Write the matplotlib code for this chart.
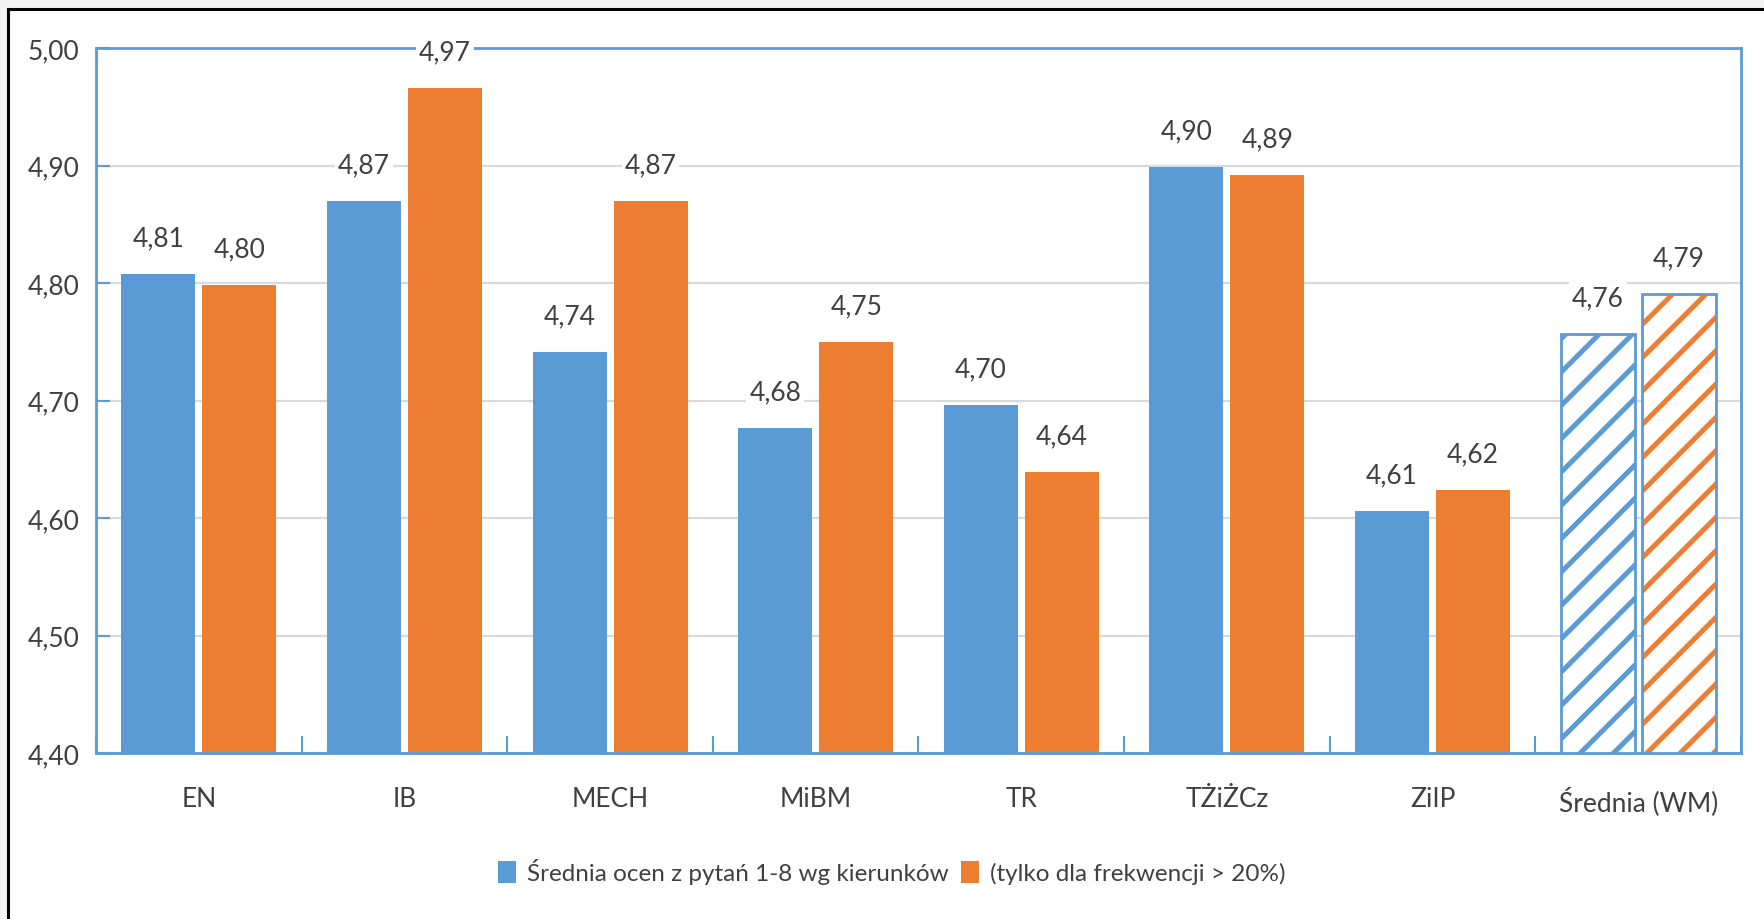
import numpy as np
import matplotlib
matplotlib.use("Agg")
from matplotlib import pyplot as plt
from matplotlib.patches import Patch, Rectangle

# data
categories = ["EN", "IB", "MECH", "MiBM", "TR", "TŻiŻCz", "ZiIP", "Średnia (WM)"]
all_votes = [4.808, 4.870, 4.741, 4.677, 4.696, 4.899, 4.606, 4.757]
high_turnout = [4.798, 4.966, 4.870, 4.750, 4.639, 4.892, 4.624, 4.791]
y_ticks = [4.40, 4.50, 4.60, 4.70, 4.80, 4.90, 5.00]
legend_labels = ["Średnia ocen z pytań 1-8 wg kierunków", "(tylko dla frekwencji > 20%)"]

BLUE = "#5B9BD5"
ORANGE = "#ED7D31"
plt.rcParams["font.family"] = ["Lato", "DejaVu Sans"]
plt.rcParams["hatch.linewidth"] = 3.6

fig = plt.figure(figsize=(17.65, 9.2), dpi=100)
fig.patch.set_facecolor("#F2F2F2")
# white chart area with black frame, like the pasted screenshot
fig.patches.append(Rectangle((8 / 1765, -0.05), 1.1, (920 - 10) / 920 + 0.05,
                             transform=fig.transFigure, facecolor="white",
                             edgecolor="black", linewidth=2.2, zorder=-5))

ax = fig.add_axes([96 / 1765, 1 - 754 / 920, (1741 - 96) / 1765, (754 - 49) / 920])
ax.set_facecolor("none")

x = np.arange(len(categories))
w = 0.36
off = 0.197
n = len(categories) - 1  # last group is the hatched average

ax.bar(x[:n] - off, all_votes[:n], w, color=BLUE, zorder=2)
ax.bar(x[:n] + off, high_turnout[:n], w, color=ORANGE, zorder=2)

ax.bar(x[n] - off, all_votes[n], w, color="white", edgecolor=BLUE, hatch="/", linewidth=0, zorder=2)
ax.bar(x[n] + off, high_turnout[n], w, color="white", edgecolor=ORANGE, hatch="/", linewidth=0, zorder=2)
ax.bar([x[n] - off, x[n] + off], [all_votes[n], high_turnout[n]], w, fill=False,
       edgecolor=BLUE, linewidth=2, zorder=3)

for xs, vals in ((x - off, all_votes), (x + off, high_turnout)):
    for xi, v in zip(xs, vals):
        ax.annotate(f"{v:.2f}".replace(".", ","), (xi, v), xytext=(0, 26),
                    textcoords="offset points", ha="center", va="center",
                    fontsize=19, color="#404040", zorder=5,
                    bbox=dict(facecolor="white", edgecolor="none", pad=2))

ax.set_ylim(4.40, 5.00)
ax.set_xlim(-0.5, len(categories) - 0.5)
ax.set_yticks(y_ticks)
ax.set_yticklabels([f"{t:.2f}".replace(".", ",") for t in y_ticks])
ax.yaxis.grid(True, color="#D9D9D9", linewidth=1.6, zorder=0)
ax.set_axisbelow(True)

ax.set_xticks(np.arange(len(categories) + 1) - 0.5)
ax.set_xticklabels([])
ax.set_xticks(x, minor=True)
ax.set_xticklabels(categories, minor=True)
ax.tick_params(axis="x", which="major", direction="in", length=12, width=1.5, color=BLUE)
ax.tick_params(axis="x", which="minor", length=0, pad=24, labelsize=19, labelcolor="#404040")
ax.tick_params(axis="y", direction="in", length=10, width=1.5, color=BLUE,
               pad=12, labelsize=19, labelcolor="#404040")

for s in ax.spines.values():
    s.set_color(BLUE)
    s.set_linewidth(2)
    s.set_zorder(4)

handles = [Patch(facecolor=BLUE), Patch(facecolor=ORANGE)]
fig.legend(handles, legend_labels, loc="center", bbox_to_anchor=(892 / 1765, 1 - 872 / 920),
           ncol=2, frameon=False, fontsize=17.5, handlelength=0.75, handleheight=1.0,
           handletextpad=0.45, columnspacing=0.5, labelcolor="#404040")

fig.savefig("out.png", dpi=100, facecolor=fig.get_facecolor())
